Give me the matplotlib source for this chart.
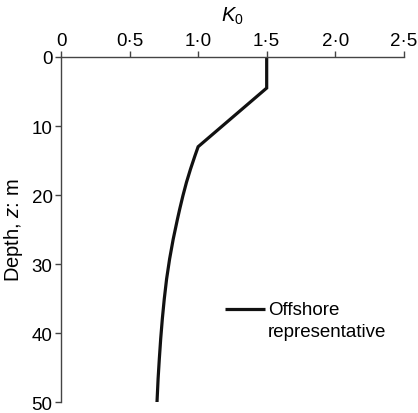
import matplotlib
matplotlib.use("Agg")
import matplotlib.pyplot as plt

plt.rcParams["font.family"] = ["Liberation Sans", "DejaVu Sans"]
plt.rcParams["mathtext.fontset"] = "custom"
plt.rcParams["mathtext.rm"] = "Liberation Sans"
plt.rcParams["mathtext.it"] = "Liberation Sans:italic"

# K0 profile (depth in m)
depth = [0, 4.5, 13.0, 14.3, 16.2, 18.15, 20.1, 22.0, 23.5, 26.4, 29.25,
         32.15, 35.05, 37.9, 40.8, 43.7, 46.6, 50.0]
k0 = [1.5, 1.5, 1.0, 0.977, 0.945, 0.915, 0.889, 0.866, 0.849, 0.818, 0.792,
      0.770, 0.753, 0.739, 0.727, 0.717, 0.708, 0.700]

x_ticks = [0, 0.5, 1.0, 1.5, 2.0, 2.5]
x_labels = ["0", "0·5", "1·0", "1·5", "2·0", "2·5"]
y_ticks = [0, 10, 20, 30, 40, 50]

fig = plt.figure(figsize=(4.18, 4.14), dpi=100)
ax = fig.add_axes([0.146, 0.026, 0.820, 0.834])

ax.plot(k0, depth, color="#111111", lw=2.3, solid_joinstyle="miter",
        solid_capstyle="butt")

ax.set_xlim(0, 2.5)
ax.set_ylim(50, 0)
ax.xaxis.tick_top()
ax.xaxis.set_label_position("top")
ax.set_xticks(x_ticks)
ax.set_xticklabels(x_labels)
ax.set_yticks(y_ticks)
ax.tick_params(direction="out", length=4, width=1, labelsize=13.5, pad=2,
               color="#444444")
for side in ["right", "bottom"]:
    ax.spines[side].set_visible(False)
for side in ["left", "top"]:
    ax.spines[side].set_color("#444444")
    ax.spines[side].set_linewidth(1)

ax.set_xlabel(r"$\mathit{K}_\mathregular{0}$", fontsize=14.5, labelpad=8)
ax.set_ylabel(r"Depth, $\mathit{z}$: m", fontsize=14.5, labelpad=5)

# legend drawn by hand so the handle sits on the first text line
ax.plot([0.479, 0.596], [0.27, 0.27], transform=ax.transAxes,
        color="#111111", lw=2.3, solid_capstyle="butt", clip_on=False)
ax.text(0.604, 0.27, "Offshore", transform=ax.transAxes,
        fontsize=13.5, va="center", ha="left")
ax.text(0.604, 0.204, "representative", transform=ax.transAxes,
        fontsize=13.5, va="center", ha="left")

fig.savefig("out.png", dpi=100)
